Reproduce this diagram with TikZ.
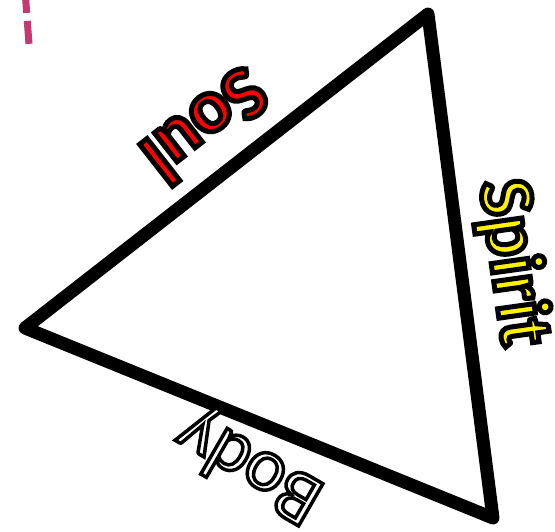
\documentclass[tikz,border=0pt]{standalone}
\usepackage{fontspec}
\setmainfont{Carlito}
\usetikzlibrary{positioning, calc}

\definecolor{dashpink}{RGB}{196,58,112}

% glyphs filled with #1 and stroked black, #2 = stroke width
\newcommand\strokedtext[3]{\textcolor{#1}{\special{pdf:literal direct 0 0 0 RG #2 w 2 Tr}#3\special{pdf:literal direct 0 Tr}}}

\begin{document}
\begin{tikzpicture}[x=1pt, y=-1pt,
    edgelabel/.style={inner sep=0pt, font=\fontsize{76}{76}\selectfont}]
  \useasboundingbox (0,0) rectangle (555,531);

  % Draw Triangle
  \coordinate (top) at (428,14);
  \coordinate (left) at (25,328);
  \coordinate (right) at (493,518);
  \draw[line width=13pt, line join=round] (top) -- (left) -- (right) -- cycle;

  % Dashed mark
  \coordinate (m1) at (25,-10);
  \coordinate (m2) at (29,44);
  \draw[dashpink, line width=7pt, dash pattern=on 23pt off 8pt] (m1) -- (m2);

  % Labels
  \node[edgelabel, rotate=218] (soul) at (206,126)
    {\bfseries\strokedtext{red}{5}{Soul}};
  \node[edgelabel, rotate=-82] (spirit) at (512,263)
    {\bfseries\strokedtext{yellow}{5}{Spirit}};
  \node[edgelabel, rotate=150] (body) at (250,465)
    {\strokedtext{white}{3.5}{Body}};
\end{tikzpicture}
\end{document}
